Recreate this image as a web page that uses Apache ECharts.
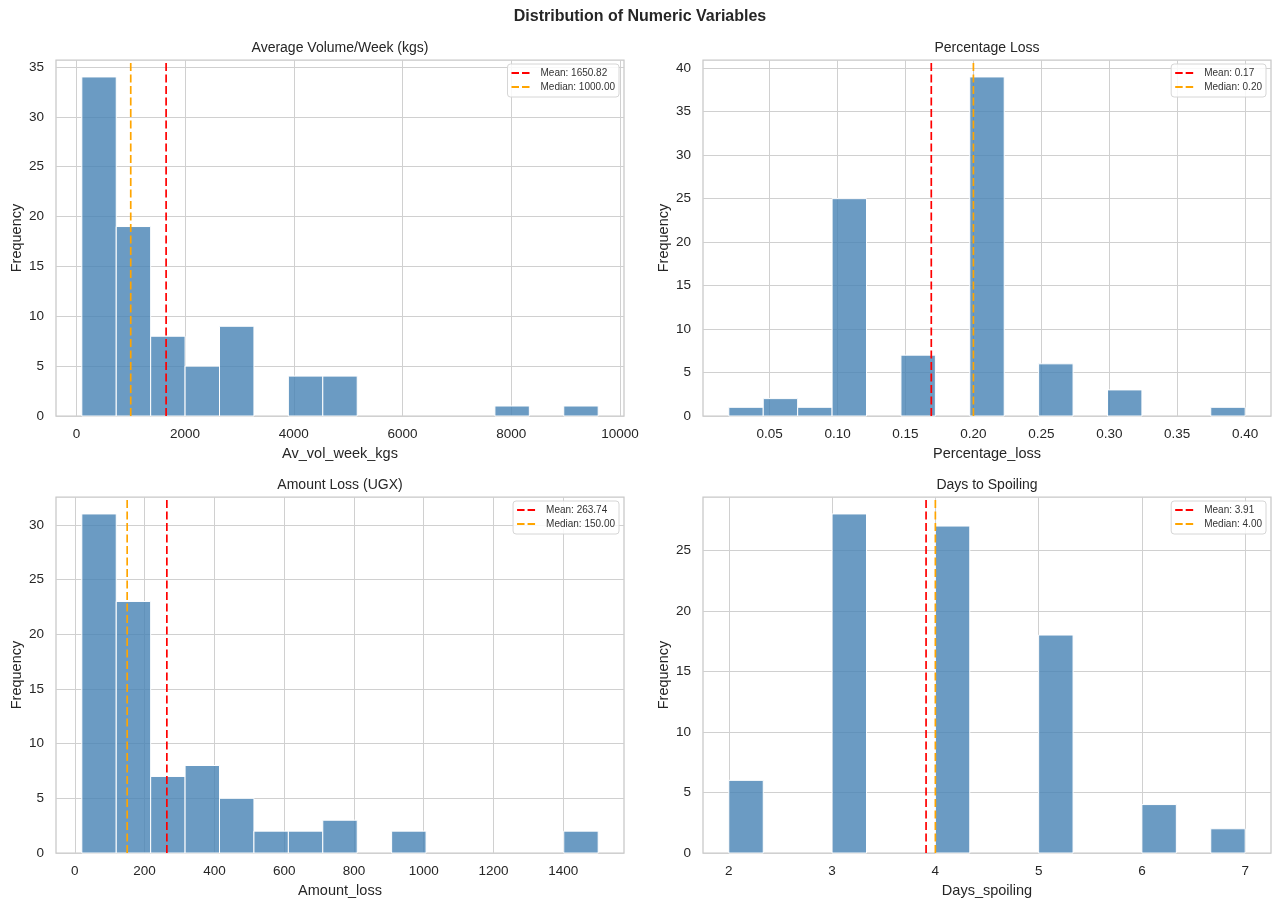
<!DOCTYPE html>
<html>
<head>
<meta charset="utf-8">
<title>Distribution of Numeric Variables</title>
<script src="https://cdn.jsdelivr.net/npm/echarts@6/dist/echarts.min.js"></script>
<style>
html, body { margin: 0; padding: 0; background: #fff; }
#chartDom { width: 1280px; height: 907px; }
</style>
</head>
<body>
<div id="chartDom"></div>
<script>
// histogram counts, 15 equal bins per variable
const volCounts = [34, 19, 8, 5, 9, 0, 4, 4, 0, 0, 0, 0, 1, 0, 1];
const volRange = [100, 9600];
const volXTicks = [0, 2000, 4000, 6000, 8000, 10000];
const volYTicks = [0, 5, 10, 15, 20, 25, 30, 35];
const volStats = [1650.82, 1000.00]; // mean, median

const pctCounts = [1, 2, 1, 25, 0, 7, 0, 39, 0, 6, 0, 3, 0, 0, 1];
const pctRange = [0.02, 0.40];
const pctXTicks = [0.05, 0.10, 0.15, 0.20, 0.25, 0.30, 0.35, 0.40];
const pctYTicks = [0, 5, 10, 15, 20, 25, 30, 35, 40];
const pctStats = [0.169, 0.20];

const amtCounts = [31, 23, 7, 8, 5, 2, 2, 3, 0, 2, 0, 0, 0, 0, 2];
const amtRange = [20, 1500];
const amtXTicks = [0, 200, 400, 600, 800, 1000, 1200, 1400];
const amtYTicks = [0, 5, 10, 15, 20, 25, 30];
const amtStats = [263.74, 150.00];

const dayCounts = [6, 0, 0, 28, 0, 0, 27, 0, 0, 18, 0, 0, 4, 0, 2];
const dayRange = [2, 7];
const dayXTicks = [2, 3, 4, 5, 6, 7];
const dayYTicks = [0, 5, 10, 15, 20, 25];
const dayStats = [3.91, 4.00];

const FONT = '"Liberation Sans", Arial, sans-serif';
const TEXT = '#262626';
const GRIDC = '#d0d0d0';
// two short dashes, like the matplotlib legend handle
const DASH_ICON = 'path://M0,0h7.5v2h-7.5z M10.5,0h7.5v2h-7.5z';

const panels = [
    {title: 'Average Volume/Week (kgs)', xName: 'Av_vol_week_kgs', counts: volCounts, range: volRange,
     xTicks: volXTicks, yTicks: volYTicks, stats: volStats, dec: 0, left: 56, top: 60},
    {title: 'Percentage Loss', xName: 'Percentage_loss', counts: pctCounts, range: pctRange,
     xTicks: pctXTicks, yTicks: pctYTicks, stats: pctStats, dec: 2, left: 703, top: 60},
    {title: 'Amount Loss (UGX)', xName: 'Amount_loss', counts: amtCounts, range: amtRange,
     xTicks: amtXTicks, yTicks: amtYTicks, stats: amtStats, dec: 0, left: 56, top: 497},
    {title: 'Days to Spoiling', xName: 'Days_spoiling', counts: dayCounts, range: dayRange,
     xTicks: dayXTicks, yTicks: dayYTicks, stats: dayStats, dec: 0, left: 703, top: 497}
];
const W = 568, H = 356;

function renderBar(params, api) {
    const p0 = api.coord([api.value(0), api.value(2)]);
    const p1 = api.coord([api.value(1), 0]);
    return {
        type: 'rect',
        shape: {x: p0[0], y: p0[1], width: p1[0] - p0[0], height: p1[1] - p0[1]},
        style: {fill: 'rgba(70,130,180,0.8)', stroke: '#ffffff', lineWidth: 1}
    };
}

const option = {
    animation: false,
    backgroundColor: '#ffffff',
    textStyle: {fontFamily: FONT, color: TEXT},
    title: [{
        text: 'Distribution of Numeric Variables',
        left: 640, top: 9, padding: 0, textAlign: 'center',
        textStyle: {fontFamily: FONT, fontSize: 16, fontWeight: 'bold', color: TEXT}
    }],
    grid: [], xAxis: [], yAxis: [], series: [], legend: []
};

panels.forEach(function (p, i) {
    const step = (p.range[1] - p.range[0]) / p.counts.length;
    const pad = (p.range[1] - p.range[0]) * 0.05;
    const ymax = Math.max.apply(null, p.counts) * 1.05;
    const bins = [];
    p.counts.forEach(function (c, k) {
        if (c > 0) bins.push([p.range[0] + k * step, p.range[0] + (k + 1) * step, c]);
    });
    const fmt = function (v) { return p.dec ? Number(v).toFixed(p.dec) : String(v); };
    const meanName = 'Mean: ' + p.stats[0].toFixed(2);
    const medName = 'Median: ' + p.stats[1].toFixed(2);

    option.title.push({
        text: p.title, left: p.left + W / 2, top: p.top - 19, padding: 0, textAlign: 'center',
        textStyle: {fontFamily: FONT, fontSize: 14, fontWeight: 'normal', color: TEXT}
    });
    option.grid.push({
        left: p.left, top: p.top, width: W, height: H, show: true,
        borderColor: '#c8c8c8', borderWidth: 1.25, backgroundColor: 'transparent'
    });
    option.xAxis.push({
        type: 'value', gridIndex: i, min: p.range[0] - pad, max: p.range[1] + pad,
        name: p.xName, nameLocation: 'middle', nameGap: 30,
        nameTextStyle: {fontFamily: FONT, fontSize: 14.5, color: TEXT},
        axisLine: {show: false},
        axisTick: {show: false, customValues: p.xTicks},
        axisLabel: {customValues: p.xTicks, formatter: fmt, margin: 11,
                    fontFamily: FONT, fontSize: 13.5, color: TEXT},
        splitLine: {show: true, lineStyle: {color: GRIDC, width: 1}}
    });
    option.yAxis.push({
        type: 'value', gridIndex: i, min: 0, max: ymax,
        name: 'Frequency', nameLocation: 'middle', nameGap: 32, nameRotate: 90,
        nameTextStyle: {fontFamily: FONT, fontSize: 14.5, color: TEXT},
        axisLine: {show: false},
        axisTick: {show: false, customValues: p.yTicks},
        axisLabel: {customValues: p.yTicks, margin: 12, fontFamily: FONT, fontSize: 13.5, color: TEXT},
        splitLine: {show: true, lineStyle: {color: GRIDC, width: 1}}
    });
    option.series.push({
        type: 'custom', xAxisIndex: i, yAxisIndex: i, renderItem: renderBar,
        encode: {x: [0, 1], y: 2}, data: bins, z: 2, silent: true
    });
    option.series.push({
        name: meanName, type: 'line', xAxisIndex: i, yAxisIndex: i, symbol: 'none', z: 4, silent: true,
        data: [[p.stats[0], 0], [p.stats[0], ymax]],
        lineStyle: {color: '#ff0000', type: [8, 3.5], width: 1.7},
        itemStyle: {color: '#ff0000'}
    });
    option.series.push({
        name: medName, type: 'line', xAxisIndex: i, yAxisIndex: i, symbol: 'none', z: 4, silent: true,
        data: [[p.stats[1], 0], [p.stats[1], ymax]],
        lineStyle: {color: '#ffa500', type: [8, 3.5], width: 1.7},
        itemStyle: {color: '#ffa500'}
    });
    option.legend.push({
        data: [meanName, medName], orient: 'vertical', icon: DASH_ICON,
        right: 1280 - (p.left + W - 5), top: p.top + 4,
        padding: [4, 4, 5, 4], itemGap: 4, itemWidth: 18, itemHeight: 2,
        backgroundColor: 'rgba(255,255,255,0.85)', borderColor: '#d6d6d6', borderWidth: 1, borderRadius: 3,
        selectedMode: false,
        textStyle: {fontFamily: FONT, fontSize: 10, color: '#333333', padding: [0, 0, 0, 6]}
    });
});

const chart = echarts.init(document.getElementById('chartDom'));
chart.setOption(option);
</script>
</body>
</html>
